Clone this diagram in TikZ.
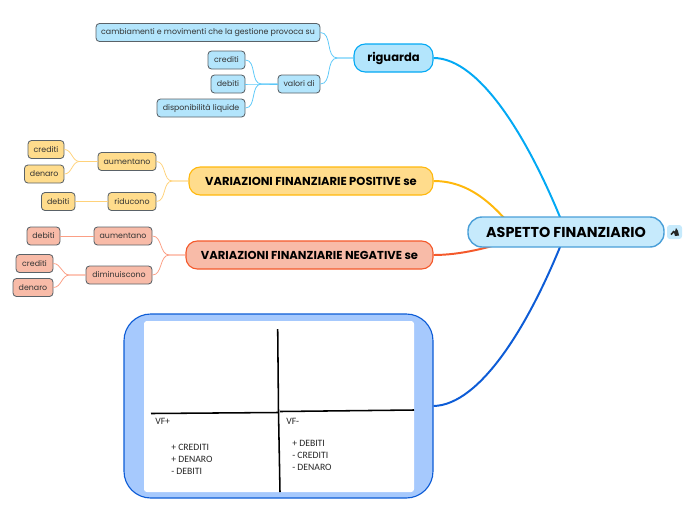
\documentclass[tikz,border=0pt]{standalone}
\usepackage{fontspec}
\setmainfont{Poppins}
\newfontfamily\notefont{Carlito}
\usetikzlibrary{positioning}
\definecolor{bluefill}{HTML}{B3E5FC}
\definecolor{blueline}{HTML}{03A9F4}
\definecolor{bluetwig}{HTML}{5CC8F8}
\definecolor{rootfill}{HTML}{C6EAFC}
\definecolor{rootline}{HTML}{4A9FD8}
\definecolor{yellowfill}{HTML}{FFDC8C}
\definecolor{yellowline}{HTML}{FFB80D}
\definecolor{yellowtwig}{HTML}{FFD27A}
\definecolor{redfill}{HTML}{F8BBA8}
\definecolor{redline}{HTML}{F4592B}
\definecolor{redtwig}{HTML}{FB9F85}
\definecolor{imgfill}{HTML}{A6C9FD}
\definecolor{imgline}{HTML}{0D5CD6}
\definecolor{leafline}{HTML}{5A6268}
\tikzset{
  wide/.style={minimum width=#1*0.25mm},
  leaf/.style={draw=leafline,line width=0.6pt,rounded corners=2.5pt,inner sep=0pt,minimum height=4.5mm,font=\fontsize{5.6}{7}\selectfont,text=black!80},
  topic/.style={line width=0.8pt,rounded corners=8pt,inner sep=0pt,minimum height=7mm,font=\fontsize{8.2}{9}\selectfont\bfseries,text=black},
  twig/.style={line width=0.55pt},
  bough/.style={line width=1.4pt},
  note/.style={inner sep=0pt,anchor=west,font=\notefont\fontsize{6.9}{8}\selectfont,text=black!85},
  axis/.style={line width=1.1pt,black}
}
\begin{document}
\begin{tikzpicture}[x=0.25mm,y=-0.25mm]
\useasboundingbox (0,0) rectangle (696,520);
\node[topic,draw=blueline,fill=bluefill,wide=79] (riguarda) at (393.5,58) {riguarda};
\node[topic,draw=yellowline,fill=yellowfill,wide=244] (positive) at (311,181) {VARIAZIONI FINANZIARIE POSITIVE se};
\node[topic,draw=redline,fill=redfill,wide=247] (negative) at (309.5,255) {VARIAZIONI FINANZIARIE NEGATIVE se};
\node[draw=imgline,fill=imgfill,line width=0.8pt,rounded corners=19pt,wide=309,minimum height=46mm,inner sep=0pt] (image) at (278.5,406) {};
\node[fill=white,rounded corners=2pt,wide=270,minimum height=42.75mm,inner sep=0pt] (sheet) at (279,406.5) {};
\coordinate (hub) at (520,237);
\coordinate (mid) at (566,232);
\draw[blueline,bough] (riguarda.east) .. controls (480,58) and (530,140) .. (mid);
\draw[yellowline,bough] (positive.east) .. controls (470,181) and (495,205) .. (hub);
\draw[redline,bough] (negative.east) .. controls (460,255) and (490,248) .. (hub);
\draw[imgline,bough] (image.east) .. controls (480,405) and (530,325) .. (mid);
\node[topic,draw=rootline,fill=rootfill,line width=1pt,rounded corners=10pt,wide=196,minimum height=7.5mm,font=\fontsize{10.2}{12}\selectfont\bfseries] (root) at (566,232) {ASPETTO FINANZIARIO};
\node[fill=rootfill,rounded corners=2pt,wide=15,minimum height=3.5mm,inner sep=0pt] (icon) at (674.5,232) {};
\fill[black!85] (670.5,234) -- (673.5,230.5) -- (675,231.5) -- (676,228) -- (678,231) -- (679,235.5) -- (675,236) -- (674,232.5) -- (671.5,235) -- cycle;
\node[leaf,fill=bluefill,wide=224] (changes) at (208,32.5) {cambiamenti e movimenti che la gestione provoca su};
\node[leaf,fill=bluefill,wide=42] (values) at (299,84) {valori di};
\node[leaf,fill=bluefill,wide=37] (bcrediti) at (226.5,60) {crediti};
\node[leaf,fill=bluefill,wide=34] (bdebiti) at (228,84) {debiti};
\node[leaf,fill=bluefill,wide=88] (liquide) at (201,108) {disponibilità liquide};
\node[leaf,fill=yellowfill,wide=58] (ymore) at (127,161.5) {aumentano};
\node[leaf,fill=yellowfill,wide=48] (yless) at (132,201.5) {riducono};
\node[leaf,fill=yellowfill,wide=36] (ycrediti) at (46,149.5) {crediti};
\node[leaf,fill=yellowfill,wide=39.5] (ydenaro) at (44.2,174) {denaro};
\node[leaf,fill=yellowfill,wide=33.5] (ydebiti) at (58.2,201.5) {debiti};
\node[leaf,fill=redfill,wide=58] (rmore) at (123,236) {aumentano};
\node[leaf,fill=redfill,wide=66] (rless) at (119,275) {diminuiscono};
\node[leaf,fill=redfill,wide=33] (rdebiti) at (43.5,236) {debiti};
\node[leaf,fill=redfill,wide=37] (rcrediti) at (34.5,263.5) {crediti};
\node[leaf,fill=redfill,wide=40] (rdenaro) at (33,287.5) {denaro};
\foreach \kid in {changes,values} \draw[bluetwig,twig] (riguarda.west) -- ++(-16,0) to[out=180,in=0] (\kid.east);
\foreach \kid in {bcrediti,bdebiti,liquide} \draw[bluetwig,twig] (values.west) -- ++(-16,0) to[out=180,in=0] (\kid.east);
\foreach \kid in {ymore,yless} \draw[yellowtwig,twig] (positive.west) -- ++(-16,0) to[out=180,in=0] (\kid.east);
\foreach \kid in {ycrediti,ydenaro} \draw[yellowtwig,twig] (ymore.west) -- ++(-18,0) to[out=180,in=0] (\kid.east);
\draw[yellowtwig,twig] (yless) -- (ydebiti);
\foreach \kid in {rmore,rless} \draw[redtwig,twig] (negative.west) -- ++(-16,0) to[out=180,in=0] (\kid.east);
\draw[redtwig,twig] (rmore) -- (rdebiti);
\foreach \kid in {rcrediti,rdenaro} \draw[redtwig,twig] (rless.west) -- ++(-16,0) to[out=180,in=0] (\kid.east);
\draw[axis] (277.7,329) -- (278.5,412) -- (280,492);
\draw[axis] (151,413.5) -- (278,412.5);
\draw[axis] (280,411.5) -- (414,410);
\node[note] (vfplus) at (155,421) {VF+};
\node[note] (pluscrediti) at (171,447) {+ CREDITI};
\node[note] (plusdenaro) at (171,459) {+ DENARO};
\node[note] (minusdebiti) at (171,471) {- DEBITI};
\node[note] (vfminus) at (286,421) {VF-};
\node[note] (plusdebiti) at (292,443.5) {+ DEBITI};
\node[note] (minuscrediti) at (292,455.5) {- CREDITI};
\node[note] (minusdenaro) at (292,467.5) {- DENARO};
\end{tikzpicture}
\end{document}
